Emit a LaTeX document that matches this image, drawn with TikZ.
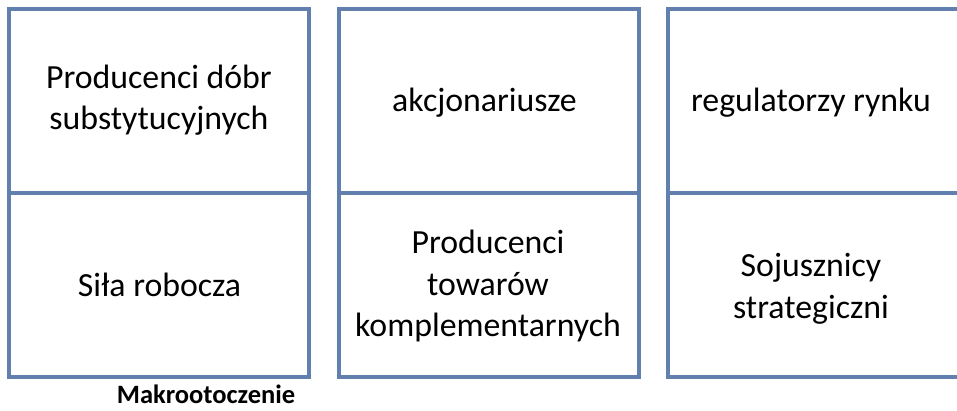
\documentclass[tikz,border=0pt]{standalone}
\usepackage{fontspec}
\setmainfont{Carlito}
\definecolor{frame}{RGB}{98,128,174}
\begin{document}
\begin{tikzpicture}[x=1pt,y=-1pt,
  cell/.style={draw=frame, line width=4pt, rectangle, inner sep=0pt,
    minimum width=300pt, minimum height=184pt},
  label/.style={align=center, inner sep=0pt, text=black,
    font=\fontsize{33.8}{41.5}\selectfont},
  caption/.style={inner sep=0pt, anchor=base, text=black,
    font=\fontsize{26.5}{32}\selectfont\bfseries}]
  \clip (0,0) rectangle (957,410);
  % three columns, two cells each
  \node[cell] (c11) at (159,101) {};
  \node[cell] (c12) at (159,285) {};
  \node[cell] (c21) at (488.5,101) {};
  \node[cell] (c22) at (488.5,285) {};
  \node[cell] (c31) at (818,101) {};
  \node[cell] (c32) at (818,285) {};
  % cell texts
  \node[label] (t11) at (159,100) {Producenci dóbr\\substytucyjnych};
  \node[label] (t21) at (484.5,103) {akcjonariusze};
  \node[label] (t31) at (811,103) {regulatorzy rynku};
  \node[label] (t12) at (159.5,285) {Siła robocza};
  \node[label] (t22) at (488,286) {Producenci\\towarów\\komplementarnych};
  \node[label] (t32) at (811,289) {Sojusznicy\\strategiczni};
  % caption under the first column
  \node[caption] (cap) at (206,403) {Makrootoczenie};
\end{tikzpicture}
\end{document}
